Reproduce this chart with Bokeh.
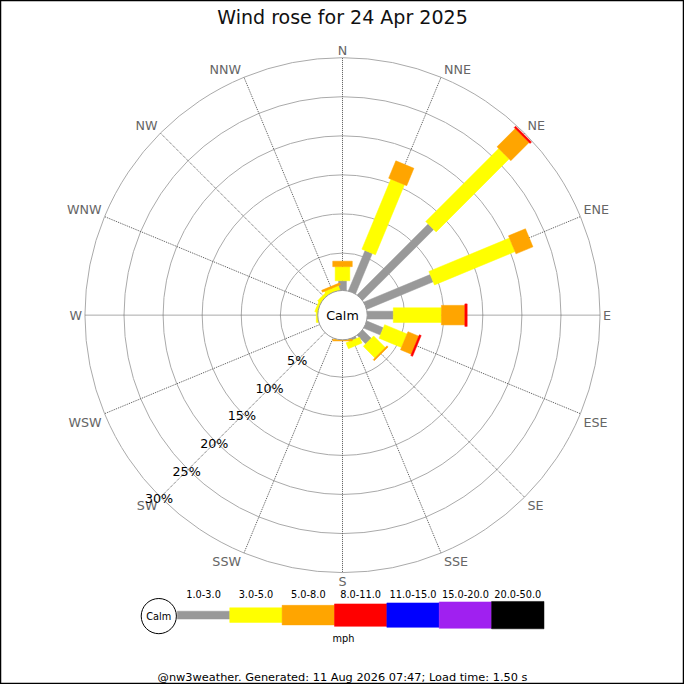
import math
from bokeh.plotting import figure
from bokeh.models import Range1d
from bokeh.embed import file_html
from bokeh.resources import INLINE
from bokeh.core.properties import value

# ---------------- data ----------------
title_text = "Wind rose for 24 Apr 2025"
directions = ["N", "NNE", "NE", "ENE", "E", "ESE", "SE", "SSE",
              "S", "SSW", "SW", "WSW", "W", "WNW", "NW", "NNW"]
speed_bins = ["1.0-3.0", "3.0-5.0", "5.0-8.0", "8.0-11.0",
              "11.0-15.0", "15.0-20.0", "20.0-50.0"]
bin_colors = ["#999999", "#ffff00", "#ffa500", "#ff0000",
              "#0000ff", "#a020f0", "#000000"]
# percent of time per direction for each speed class
pct_1_3 = [1.45, 5.8, 13.05, 9.4, 3.55, 2.5, 1.75, 0.5, 0.1, 0.0, 0.0, 0.0, 0.1, 0.1, 0.1, 0.1]
pct_3_5 = [1.8, 9.7, 13.2, 11.15, 6.15, 3.1, 2.1, 0.8, 0.05, 0.0, 0.0, 0.0, 0.3, 0.4, 0.5, 0.65]
pct_5_8 = [0.7, 2.4, 3.3, 2.35, 3.0, 1.5, 0.2, 0.0, 0.2, 0.0, 0.0, 0.0, 0.0, 0.0, 0.0, 0.25]
pct_8_11 = [0.0, 0.0, 0.25, 0.0, 0.3, 0.25, 0.0, 0.0, 0.0, 0.0, 0.0, 0.0, 0.0, 0.0, 0.0, 0.0]
pct_11_15 = [0.0] * 16
pct_15_20 = [0.0] * 16
pct_20_50 = [0.0] * 16
ring_pcts = [5, 10, 15, 20, 25, 30]
calm_label = "Calm"
unit_label = "mph"
footer_text = "@nw3weather. Generated: 11 Aug 2026 07:47; Load time: 1.50 s"

series = [pct_1_3, pct_3_5, pct_5_8, pct_8_11, pct_11_15, pct_15_20, pct_20_50]

# ---------------- geometry (reference pixel units, 700 -> 684 px) ----------------
H = 700
PX = 684
K = PX / H
CX, CY = 350.0, H - 322.0
R0 = 23.6          # radius of 0 %
SCALE = 8.0        # pixels per percent
CALM_R = 25.3
BAR_W = [8, 15, 20, 23, 25, 27, 28]
R_OUT = R0 + SCALE * ring_pcts[-1]
FONT = value("DejaVu Sans")

def fs(px):
    return value(f"{px * K:.2f}px")

p = figure(width=PX, height=PX, x_range=Range1d(0, H), y_range=Range1d(0, H),
           output_backend="svg", toolbar_location=None, min_border=0,
           x_axis_location=None, y_axis_location=None)
p.grid.visible = False
p.outline_line_color = "black"
p.outline_line_width = 1.5
p.background_fill_color = "white"
p.border_fill_color = "white"

def pt(theta_deg, r):
    t = math.radians(theta_deg)
    return CX + r * math.sin(t), CY + r * math.cos(t)

# rings
p.circle(x=[CX] * len(ring_pcts), y=[CY] * len(ring_pcts),
         radius=[R0 + SCALE * v for v in ring_pcts],
         fill_color=None, line_color="#aaaaaa", line_width=1)

# spokes
angles = [i * 22.5 for i in range(len(directions))]
ends = [pt(a, R_OUT) for a in angles]
p.segment(x0=[CX] * 16, y0=[CY] * 16, x1=[e[0] for e in ends], y1=[e[1] for e in ends],
          line_color="#555555", line_width=1, line_dash="1 1")

# bars
cum = [0.0] * len(directions)
for k, ser in enumerate(series):
    xs, ys = [], []
    for i, a in enumerate(angles):
        v = ser[i]
        if v <= 0:
            continue
        t = math.radians(a)
        ux, uy = math.sin(t), math.cos(t)
        nx, ny = math.cos(t), -math.sin(t)
        ra = R0 + SCALE * cum[i]
        rb = R0 + SCALE * (cum[i] + v)
        hw = BAR_W[k] / 2.0
        xs.append([CX + ux * ra + nx * hw, CX + ux * rb + nx * hw,
                   CX + ux * rb - nx * hw, CX + ux * ra - nx * hw])
        ys.append([CY + uy * ra + ny * hw, CY + uy * rb + ny * hw,
                   CY + uy * rb - ny * hw, CY + uy * ra - ny * hw])
        cum[i] += v
    if xs:
        p.patches(xs=xs, ys=ys, fill_color=bin_colors[k], line_color=bin_colors[k], line_width=0.5)

# calm circle
p.circle(x=[CX], y=[CY], radius=CALM_R, fill_color="white", line_color="#999999", line_width=1)
p.text(x=[CX], y=[CY], text=[calm_label], text_align="center", text_baseline="middle",
       text_font=FONT, text_font_size=fs(13), text_color="black")

# direction labels
for name, a in zip(directions, angles):
    s, c = math.sin(math.radians(a)), math.cos(math.radians(a))
    x, y = pt(a, R_OUT)
    if s > 0.2:
        align = "left"; x += 3
    elif s < -0.2:
        align = "right"; x -= 3
    else:
        align = "center"
    if c > 0.2:
        base = "bottom"
    elif c < -0.2:
        base = "top"; y -= 1
    else:
        base = "middle"
    p.text(x=[x], y=[y], text=[name], text_align=align, text_baseline=base,
           text_font=FONT, text_font_size=fs(13), text_color="#666666")

# percentage labels along SW spoke
lx, ly = [], []
for v in ring_pcts:
    x, y = pt(225, R0 + SCALE * v + 2)
    lx.append(x); ly.append(y)
p.text(x=lx, y=ly, text=[f"{v}%" for v in ring_pcts], text_align="center",
       text_baseline="middle", text_font=FONT, text_font_size=fs(13), text_color="black")

# title
p.text(x=[350], y=[H - 17], text=[title_text], text_align="center", text_baseline="middle",
       text_font=FONT, text_font_size=fs(19.5), text_color="#111111")

# legend
LEG_Y = H - 629
SEG = 53.6
LX0 = 181
lefts = [LX0 + i * SEG for i in range(len(speed_bins))]
p.quad(left=lefts, right=[l + SEG for l in lefts],
       bottom=[LEG_Y - w / 2 for w in BAR_W], top=[LEG_Y + w / 2 for w in BAR_W],
       fill_color=bin_colors, line_color=bin_colors, line_width=0.5)
p.text(x=[l + SEG / 2 for l in lefts], y=[H - 607] * len(speed_bins), text=speed_bins,
       text_align="center", text_baseline="middle", text_font=FONT,
       text_font_size=fs(10), text_color="black")
p.circle(x=[162], y=[H - 630], radius=18, fill_color="white", line_color="black", line_width=1)
p.text(x=[162], y=[H - 630], text=[calm_label], text_align="center", text_baseline="middle",
       text_font=FONT, text_font_size=fs(10), text_color="black")
p.text(x=[351], y=[H - 653], text=[unit_label], text_align="center", text_baseline="middle",
       text_font=FONT, text_font_size=fs(10), text_color="black")

# footer
p.text(x=[350], y=[H - 692], text=[footer_text], text_align="center", text_baseline="middle",
       text_font=FONT, text_font_size=fs(11.6), text_color="black")

open("out.html", "w").write(file_html(p, INLINE))
